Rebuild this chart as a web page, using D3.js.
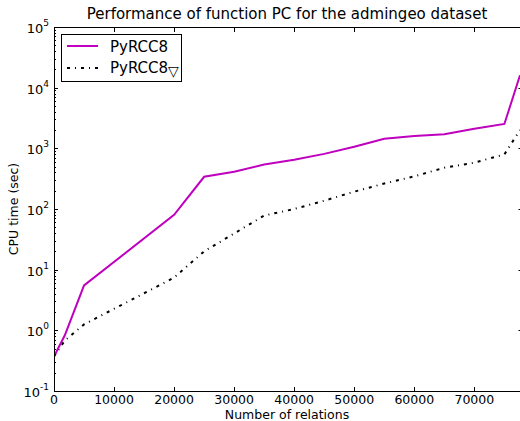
<!DOCTYPE html>
<html>
<head>
<meta charset="utf-8">
<script src="https://d3js.org/d3.v7.min.js"></script>
<style>
  body { margin: 0; background: #fff; }
  text { font-family: "DejaVu Sans", sans-serif; fill: #000; }
</style>
</head>
<body>
<script>
// Data
const xPurple = [0, 1800, 5000, 20000, 25000, 30000, 35000, 40000, 45000, 50000, 55000, 60000, 65000, 70000, 75000, 77600];
const yPurple = [0.37, 0.83, 5.5, 80, 340, 410, 540, 650, 810, 1060, 1440, 1600, 1700, 2100, 2520, 16000];
const xBlack = [0, 1800, 5000, 20000, 25000, 30000, 35000, 40000, 45000, 50000, 55000, 60000, 65000, 70000, 75000, 77600];
const yBlack = [0.37, 0.68, 1.25, 7.4, 20, 39.5, 78, 100, 137, 193, 263, 345, 480, 580, 795, 2000];
const xTicks = [0, 10000, 20000, 30000, 40000, 50000, 60000, 70000];
const yExps = [-1, 0, 1, 2, 3, 4, 5];

const width = 520, height = 421;
const plotLeft = 54, plotRight = 520, plotTop = 27, plotBottom = 391;

const svg = d3.select('body').append('svg')
  .attr('width', width)
  .attr('height', height);

const x = d3.scaleLinear().domain([0, 77600]).range([plotLeft, plotRight]);
const y = d3.scaleLog().domain([0.1, 1e5]).range([plotBottom, plotTop]);

// Lines, clipped to the axes box
svg.append('clipPath').attr('id', 'clip')
  .append('rect').attr('x', plotLeft).attr('y', plotTop)
  .attr('width', plotRight - plotLeft).attr('height', plotBottom - plotTop);

const line = d3.line().x(d => x(d[0])).y(d => y(d[1]));

svg.append('path')
  .datum(xBlack.map((v, i) => [v, yBlack[i]]))
  .attr('clip-path', 'url(#clip)')
  .attr('d', line)
  .attr('fill', 'none')
  .attr('stroke', '#000')
  .attr('stroke-width', 2)
  .attr('stroke-dasharray', '3,5,1,5');

svg.append('path')
  .datum(xPurple.map((v, i) => [v, yPurple[i]]))
  .attr('clip-path', 'url(#clip)')
  .attr('d', line)
  .attr('fill', 'none')
  .attr('stroke', '#bf00bf')
  .attr('stroke-width', 2);

// Axes box
const frame = svg.append('g').attr('stroke', '#000').attr('stroke-width', 1);
frame.append('rect')
  .attr('x', plotLeft + 0.5).attr('y', plotTop + 0.5)
  .attr('width', plotRight - plotLeft + 2).attr('height', plotBottom - plotTop)
  .attr('fill', 'none');

// Ticks pointing inwards, on all sides
xTicks.forEach(t => {
  const px = Math.round(x(t)) + 0.5;
  frame.append('line').attr('x1', px).attr('x2', px).attr('y1', plotBottom).attr('y2', plotBottom - 4);
  frame.append('line').attr('x1', px).attr('x2', px).attr('y1', plotTop + 1).attr('y2', plotTop + 5);
});

const yMinor = [];
for (let e = -1; e < 5; e++) for (let m = 2; m <= 9; m++) yMinor.push(m * Math.pow(10, e));

const rx = plotRight + 2.5;
yExps.forEach(e => {
  const py = Math.round(y(Math.pow(10, e))) + 0.5;
  frame.append('line').attr('x1', plotLeft).attr('x2', plotLeft + 4).attr('y1', py).attr('y2', py);
  frame.append('line').attr('x1', rx).attr('x2', rx - 4).attr('y1', py).attr('y2', py);
});
yMinor.forEach(v => {
  const py = Math.round(y(v)) + 0.5;
  frame.append('line').attr('x1', plotLeft).attr('x2', plotLeft + 2).attr('y1', py).attr('y2', py);
  frame.append('line').attr('x1', rx).attr('x2', rx - 2).attr('y1', py).attr('y2', py);
});

// Tick labels
svg.append('g').selectAll('text')
  .data(xTicks)
  .enter().append('text')
  .attr('x', d => x(d))
  .attr('y', plotBottom + 13)
  .attr('text-anchor', 'middle')
  .style('font-size', '12.5px')
  .text(d => d);

const yl = svg.append('g').selectAll('text')
  .data(yExps)
  .enter().append('text')
  .attr('x', 49)
  .attr('y', d => y(Math.pow(10, d)) + 6)
  .attr('text-anchor', 'end')
  .style('font-size', '13px');
yl.append('tspan').text('10');
yl.append('tspan')
  .attr('dy', -7)
  .style('font-size', '9px')
  .text(d => d);

// Axis labels and title
svg.append('text')
  .attr('x', (plotLeft + plotRight) / 2)
  .attr('y', 419)
  .attr('text-anchor', 'middle')
  .style('font-size', '12.5px')
  .text('Number of relations');

svg.append('text')
  .attr('transform', `translate(18,${(plotTop + plotBottom) / 2}) rotate(-90)`)
  .attr('text-anchor', 'middle')
  .style('font-size', '12.5px')
  .text('CPU time (sec)');

svg.append('text')
  .attr('x', (plotLeft + plotRight) / 2)
  .attr('y', 19)
  .attr('text-anchor', 'middle')
  .style('font-size', '15px')
  .text('Performance of function PC for the admingeo dataset');

// Legend
const legend = svg.append('g');
legend.append('rect')
  .attr('x', 61.5).attr('y', 34.5)
  .attr('width', 120).attr('height', 47)
  .attr('fill', '#fff')
  .attr('stroke', '#000');
legend.append('line')
  .attr('x1', 67).attr('x2', 98).attr('y1', 46).attr('y2', 46)
  .attr('stroke', '#bf00bf').attr('stroke-width', 2);
legend.append('line')
  .attr('x1', 67).attr('x2', 98).attr('y1', 68).attr('y2', 68)
  .attr('stroke', '#000').attr('stroke-width', 2)
  .attr('stroke-dasharray', '3,5,1,5');
legend.append('text')
  .attr('x', 110).attr('y', 52)
  .style('font-size', '15px')
  .text('PyRCC8');
const l2 = legend.append('text')
  .attr('x', 110).attr('y', 73)
  .style('font-size', '15px');
l2.append('tspan').text('PyRCC8');
l2.append('tspan').attr('dy', 3).style('font-size', '14px').text('\u25BD');
</script>
</body>
</html>
